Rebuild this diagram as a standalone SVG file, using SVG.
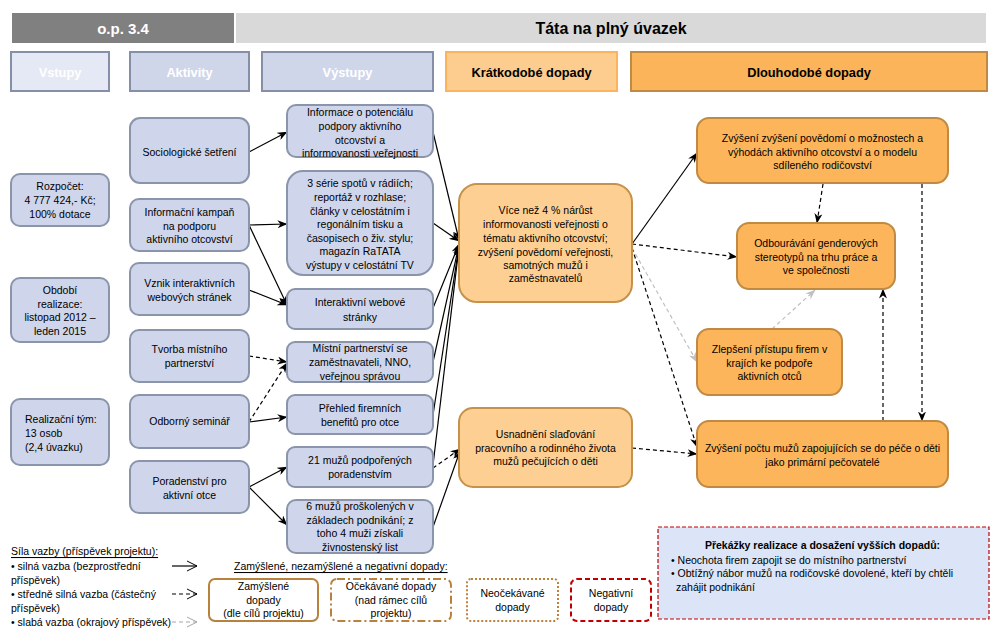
<svg xmlns="http://www.w3.org/2000/svg" width="995" height="631" viewBox="0 0 995 631">
<defs>
<style>
text{font-family:"Liberation Sans",Arial,sans-serif;font-size:10.5px;fill:#000;dominant-baseline:central}
.c{text-anchor:middle}
.hd{font-weight:bold;font-size:12.8px}
.hw{fill:#fff}
.blue{fill:#cfd5ea;stroke:#8a94ab;stroke-width:2}
.st{fill:#fecf93;stroke:#c4924a;stroke-width:2}
.lt{fill:#fcb55a;stroke:#c08a42;stroke-width:2}
.ln{fill:none;stroke:#000;stroke-width:1.2}
.d{stroke-dasharray:4 3}
.g{stroke:#c0c0c0}
</style>
<marker id="ah" viewBox="0 0 10 8" refX="9.5" refY="4" markerWidth="10" markerHeight="8" markerUnits="userSpaceOnUse" orient="auto"><path d="M0,0 L10,4 L0,8 L3,4 z" fill="#000"/></marker>
<marker id="ahg" viewBox="0 0 10 8" refX="9.5" refY="4" markerWidth="10" markerHeight="8" markerUnits="userSpaceOnUse" orient="auto"><path d="M0,0 L10,4 L0,8 L3,4 z" fill="#c0c0c0"/></marker>
<marker id="ch" viewBox="0 0 12 12" refX="11" refY="6" markerWidth="12" markerHeight="12" markerUnits="userSpaceOnUse" orient="auto"><path d="M1,1 L11,6 L1,11" fill="none" stroke="#000" stroke-width="1"/></marker>
<marker id="chg" viewBox="0 0 12 12" refX="11" refY="6" markerWidth="12" markerHeight="12" markerUnits="userSpaceOnUse" orient="auto"><path d="M1,1 L11,6 L1,11" fill="none" stroke="#a6a6a6" stroke-width="1"/></marker>
</defs>
<rect width="995" height="631" fill="#fff"/>

<g id="header">
<rect x="12" y="13" width="222" height="30" fill="#808080"/>
<text x="123" y="28.5" class="c" style="font-weight:bold;font-size:15px;fill:#fff">o.p. 3.4</text>
<rect x="236" y="13" width="750" height="30" fill="#d9d9d9"/>
<text x="611" y="28.5" class="c" style="font-weight:bold;font-size:16px">Táta na plný úvazek</text>
</g>

<g id="col-headers">
<g id="h-vstupy"><rect x="11" y="52" width="98" height="39" fill="#e5e9f5" stroke="#8590a8" stroke-width="2"/><text x="60" y="72" class="c hd hw">Vstupy</text></g>
<g id="h-aktivity"><rect x="130" y="52" width="119" height="39" fill="#d0d6ea" stroke="#8590a8" stroke-width="2"/><text x="189.5" y="72" class="c hd hw">Aktivity</text></g>
<g id="h-vystupy"><rect x="262" y="52" width="171" height="39" fill="#d0d6ea" stroke="#8590a8" stroke-width="2"/><text x="347.5" y="72" class="c hd hw">Výstupy</text></g>
<g id="h-kratkodobe"><rect x="446" y="52" width="171" height="39" fill="#fdcc8f" stroke="#fbb35e" stroke-width="2"/><text x="531.5" y="72" class="c hd">Krátkodobé dopady</text></g>
<g id="h-dlouhodobe"><rect x="631" y="52" width="356" height="39" fill="#fbb45a" stroke="#bf8a44" stroke-width="2"/><text x="809" y="72" class="c hd">Dlouhodobé dopady</text></g>
</g>

<g id="connectors">
<path class="ln" marker-end="url(#ah)" d="M249,152 L287,132"/>
<path class="ln" marker-end="url(#ah)" d="M249,225 L287,224"/>
<path class="ln" marker-end="url(#ah)" d="M249,225 L287,305"/>
<path class="ln" marker-end="url(#ah)" d="M249,290 L287,305"/>
<path class="ln d" marker-end="url(#ah)" d="M249,356 L287,362"/>
<path class="ln d" marker-end="url(#ah)" d="M249,422 L287,363"/>
<path class="ln" marker-end="url(#ah)" d="M249,422 L287,417"/>
<path class="ln" marker-end="url(#ah)" d="M249,487 L287,467"/>
<path class="ln" marker-end="url(#ah)" d="M249,487 L287,525"/>

<path class="ln" marker-end="url(#ah)" d="M433,132 L459,240"/>
<path class="ln" marker-end="url(#ah)" d="M433,223 L459,241"/>
<path class="ln" marker-end="url(#ah)" d="M433,308 L459,244"/>
<path class="ln" marker-end="url(#ah)" d="M433,362 L459,245"/>
<path class="ln" marker-end="url(#ah)" d="M433,415 L459,246"/>
<path class="ln" marker-end="url(#ah)" d="M433,465 L459,247"/>
<path class="ln d" marker-end="url(#ah)" d="M433,468 L460,449"/>
<path class="ln" marker-end="url(#ah)" d="M433,527 L460,451"/>

<path class="ln" marker-end="url(#ah)" d="M632,244 L697,153"/>
<path class="ln d" marker-end="url(#ah)" d="M632,244 L737,257"/>
<path class="ln d g" marker-end="url(#ahg)" d="M632,248 L697,362"/>
<path class="ln d" marker-end="url(#ah)" d="M632,248 L697,447"/>
<path class="ln d" marker-end="url(#ah)" d="M632,448 L697,454"/>
<path class="ln d g" marker-end="url(#ahg)" d="M772,329 L815,290"/>
<path class="ln d" marker-end="url(#ah)" d="M823,184 L817,223"/>
<path class="ln d" marker-end="url(#ah)" d="M922,184 L922,421"/>
<path class="ln d" marker-end="url(#ah)" d="M883,421 L883,289"/>
</g>

<g id="in-rozpocet"><rect class="blue" x="11" y="174" width="98" height="52" rx="9"/>
<text class="c" x="60" y="186">Rozpočet:</text><text class="c" x="60" y="200">4 777 424,- Kč;</text><text class="c" x="60" y="214">100% dotace</text></g>
<g id="in-obdobi"><rect class="blue" x="11" y="278" width="98" height="64" rx="9"/>
<text class="c" x="60" y="290">Období</text><text class="c" x="60" y="304">realizace:</text><text class="c" x="60" y="317">listopad 2012 –</text><text class="c" x="60" y="331">leden 2015</text></g>
<g id="in-tym"><rect class="blue" x="11" y="399" width="98" height="66" rx="9"/>
<text x="25" y="419">Realizační tým:</text><text x="25" y="433">13 osob</text><text x="25" y="447">(2,4 úvazku)</text></g>

<g id="a-socio"><rect class="blue" x="130" y="118" width="119" height="65" rx="10"/>
<text class="c" x="189.5" y="152">Sociologické šetření</text></g>
<g id="a-kampan"><rect class="blue" x="130" y="199" width="119" height="52" rx="9"/>
<text class="c" x="189.5" y="212">Informační kampaň</text><text class="c" x="189.5" y="226">na podporu</text><text class="c" x="189.5" y="239">aktivního otcovství</text></g>
<g id="a-vznik"><rect class="blue" x="130" y="263" width="119" height="52" rx="9"/>
<text class="c" x="189.5" y="283">Vznik interaktivních</text><text class="c" x="189.5" y="297">webových stránek</text></g>
<g id="a-tvorba"><rect class="blue" x="130" y="330" width="119" height="52" rx="9"/>
<text class="c" x="189.5" y="349">Tvorba místního</text><text class="c" x="189.5" y="363">partnerství</text></g>
<g id="a-seminar"><rect class="blue" x="130" y="395" width="119" height="53" rx="9"/>
<text class="c" x="189.5" y="421">Odborný seminář</text></g>
<g id="a-poradenstvi"><rect class="blue" x="130" y="461" width="119" height="52" rx="9"/>
<text class="c" x="189.5" y="481">Poradenství pro</text><text class="c" x="189.5" y="495">aktivní otce</text></g>

<g id="o-informace"><rect class="blue" x="287" y="105" width="146" height="52" rx="9"/>
<text class="c" x="360" y="112">Informace o potenciálu</text><text class="c" x="360" y="126">podpory aktivního</text><text class="c" x="360" y="140">otcovství a</text><text class="c" x="360" y="153">informovanosti veřejnosti</text></g>
<g id="o-serie"><rect class="blue" x="287" y="171" width="146" height="104" rx="16"/>
<text class="c" x="360" y="183">3 série spotů v rádiích;</text><text class="c" x="360" y="197">reportáž v rozhlase;</text><text class="c" x="360" y="211">články v celostátním i</text><text class="c" x="360" y="224">regonálním tisku a</text><text class="c" x="360" y="238">časopisech o živ. stylu;</text><text class="c" x="360" y="251">magazín RaTATA</text><text class="c" x="360" y="265">výstupy v celostátní TV</text></g>
<g id="o-web"><rect class="blue" x="287" y="289" width="146" height="40" rx="8"/>
<text class="c" x="360" y="302">Interaktivní webové</text><text class="c" x="360" y="317">stránky</text></g>
<g id="o-partnerstvi"><rect class="blue" x="287" y="342" width="146" height="40" rx="8"/>
<text class="c" x="360" y="348">Místní partnerství se</text><text class="c" x="360" y="362">zaměstnavateli, NNO,</text><text class="c" x="360" y="376">veřejnou správou</text></g>
<g id="o-prehled"><rect class="blue" x="287" y="395" width="146" height="39" rx="8"/>
<text class="c" x="360" y="408">Přehled firemních</text><text class="c" x="360" y="422">benefitů pro otce</text></g>
<g id="o-21"><rect class="blue" x="287" y="447" width="146" height="40" rx="8"/>
<text class="c" x="360" y="460">21 mužů podpořených</text><text class="c" x="360" y="474">poradenstvím</text></g>
<g id="o-6"><rect class="blue" x="287" y="500" width="146" height="53" rx="9"/>
<text class="c" x="360" y="506">6 mužů proškolených v</text><text class="c" x="360" y="520">základech podnikání; z</text><text class="c" x="360" y="533">toho 4 muži získali</text><text class="c" x="360" y="547">živnostenský list</text></g>

<g id="s-vice"><rect class="st" x="459" y="184" width="173" height="118" rx="18"/>
<text class="c" x="545.5" y="210">Více než 4 % nárůst</text><text class="c" x="545.5" y="224">informovanosti veřejnosti o</text><text class="c" x="545.5" y="238">tématu aktivního otcovství;</text><text class="c" x="545.5" y="252">zvýšení povědomí veřejnosti,</text><text class="c" x="545.5" y="265">samotných mužů i</text><text class="c" x="545.5" y="278">zaměstnavatelů</text></g>
<g id="s-usnadneni"><rect class="st" x="459" y="408" width="173" height="79" rx="14"/>
<text class="c" x="545.5" y="434">Usnadnění slaďování</text><text class="c" x="545.5" y="448">pracovního a rodinného života</text><text class="c" x="545.5" y="461">mužů pečujících o děti</text></g>

<g id="l-povedomi"><rect class="lt" x="697" y="118" width="251" height="65" rx="12"/>
<text class="c" x="822.5" y="138">Zvýšení zvýšení povědomí o možnostech a</text><text class="c" x="822.5" y="152">výhodách aktivního otcovství a o modelu</text><text class="c" x="822.5" y="165">sdíleného rodičovství</text></g>
<g id="l-stereotypy"><rect class="lt" x="737" y="223" width="158" height="66" rx="12"/>
<text class="c" x="816" y="243">Odbourávání genderových</text><text class="c" x="816" y="257">stereotypů na trhu práce a</text><text class="c" x="816" y="270">ve společnosti</text></g>
<g id="l-firmy"><rect class="lt" x="697" y="329" width="145" height="66" rx="12"/>
<text class="c" x="769.5" y="349">Zlepšení přístupu firem v</text><text class="c" x="769.5" y="363">krajích ke podpoře</text><text class="c" x="769.5" y="376">aktivních otců</text></g>
<g id="l-pocet"><rect class="lt" x="697" y="421" width="251" height="66" rx="12"/>
<text class="c" x="822.5" y="448">Zvýšení počtu mužů zapojujících se do péče o děti</text><text class="c" x="822.5" y="462">jako primární pečovatelé</text></g>

<g id="legend-vazba">
<text x="11" y="551" text-decoration="underline">Síla vazby (příspěvek projektu):</text>
<text x="11" y="566">• silná vazba (bezprostřední</text>
<text x="11" y="580">příspěvek)</text>
<text x="11" y="594">• středně silná vazba (částečný</text>
<text x="11" y="608">příspěvek)</text>
<text x="11" y="622">• slabá vazba (okrajový příspěvek)</text>
<path class="ln" marker-end="url(#ch)" d="M172,566 L197,566"/>
<path class="ln d" marker-end="url(#ch)" d="M172,594 L197,594"/>
<path class="ln d" style="stroke:#a6a6a6" marker-end="url(#chg)" d="M172,622 L197,622"/>
</g>

<g id="legend-dopady">
<text x="234" y="566" text-decoration="underline">Zamýšlené, nezamýšlené a negativní dopady:</text>
<rect x="209" y="579" width="109" height="42" rx="6" fill="none" stroke="#b8823d" stroke-width="2"/>
<text class="c" x="263.5" y="586">Zamýšlené</text><text class="c" x="263.5" y="600">dopady</text><text class="c" x="263.5" y="613">(dle cílů projektu)</text>
<rect x="331" y="579" width="120" height="42" rx="6" fill="none" stroke="#b8823d" stroke-width="2" stroke-dasharray="8 3 2 3"/>
<text class="c" x="391" y="586">Očekávané dopady</text><text class="c" x="391" y="600">(nad rámec  cílů</text><text class="c" x="391" y="613">projektu)</text>
<rect x="467" y="579" width="91" height="42" rx="4" fill="none" stroke="#b8823d" stroke-width="2" stroke-dasharray="2 2"/>
<text class="c" x="512.5" y="593">Neočekávané</text><text class="c" x="512.5" y="607">dopady</text>
<rect x="571" y="579" width="80" height="42" rx="6" fill="none" stroke="#c00000" stroke-width="2" stroke-dasharray="5 3"/>
<text class="c" x="611" y="593">Negativní</text><text class="c" x="611" y="607">dopady</text>
</g>

<g id="prekazky">
<rect x="658" y="527" width="331" height="92" fill="#dbe5f7" stroke="#c00000" stroke-width="1.2" stroke-dasharray="4 2"/>
<text class="c" x="822.5" y="545" style="font-weight:bold">Překážky realizace a dosažení vyšších dopadů:</text>
<text x="671" y="560">• Neochota firem zapojit se do místního partnerství</text>
<text x="671" y="573">• Obtížný nábor mužů na rodičovské dovolené, kteří by chtěli</text>
<text x="676" y="587">zahájit podnikání</text>
</g>
</svg>
